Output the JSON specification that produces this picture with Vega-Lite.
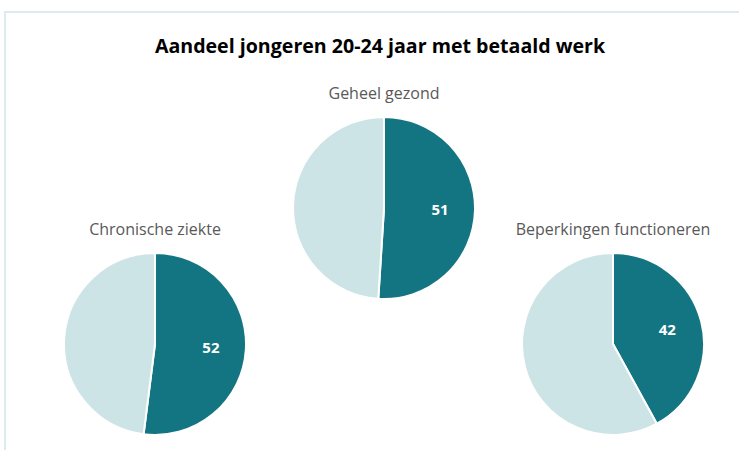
{
  "$schema": "https://vega.github.io/schema/vega-lite/v6.json",
  "width": 739,
  "height": 450,
  "autosize": {"type": "fit", "contains": "padding"},
  "padding": {"left": 5, "top": 12, "right": -16, "bottom": -2},
  "background": "white",
  "config": {"view": {"stroke": "#dcecee", "strokeWidth": 2}, "font": "Open Sans"},
  "title": {
    "text": "Aandeel jongeren 20-24 jaar met betaald werk",
    "font": "Open Sans",
    "fontSize": 19.6,
    "fontWeight": "bold",
    "color": "#000000",
    "anchor": "middle",
    "orient": "top",
    "offset": -61,
    "baseline": "alphabetic"
  },
  "data": {
    "values": [
      {"groep": "Chronische ziekte", "categorie": "met werk", "waarde": 52},
      {"groep": "Chronische ziekte", "categorie": "zonder werk", "waarde": 48},
      {"groep": "Geheel gezond", "categorie": "met werk", "waarde": 51},
      {"groep": "Geheel gezond", "categorie": "zonder werk", "waarde": 49},
      {"groep": "Beperkingen functioneren", "categorie": "met werk", "waarde": 42},
      {"groep": "Beperkingen functioneren", "categorie": "zonder werk", "waarde": 58}
    ]
  },
  "encoding": {
    "x": {
      "field": "groep",
      "type": "nominal",
      "scale": {"type": "point", "domain": ["Chronische ziekte", "Geheel gezond", "Beperkingen functioneren"], "range": [150, 608], "padding": 0},
      "axis": null
    }
  },
  "layer": [
    {
      "transform": [{"filter": "datum.groep === 'Chronische ziekte'"}],
      "encoding": {
        "y": {"datum": "onder", "type": "nominal", "scale": {"type": "point", "domain": ["boven", "onder"], "range": [196, 332], "padding": 0}, "axis": null}
      },
      "layer": [
        {
          "mark": {"type": "arc", "radius": 91, "stroke": "white", "strokeWidth": 2},
          "encoding": {
            "theta": {"field": "waarde", "type": "quantitative", "stack": true},
            "color": {"field": "categorie", "type": "nominal", "scale": {"domain": ["met werk", "zonder werk"], "range": ["#137582", "#cde4e6"]}, "legend": null},
            "order": {"field": "categorie", "sort": "ascending"}
          }
        },
        {
          "mark": {"type": "text", "radius": 56, "font": "Open Sans", "fontSize": 15, "fontWeight": "bold", "color": "white", "align": "center", "baseline": "middle"},
          "encoding": {
            "theta": {"field": "waarde", "type": "quantitative", "stack": true},
            "order": {"field": "categorie", "sort": "ascending"},
            "text": {"condition": {"test": "datum.categorie === 'met werk'", "field": "waarde", "type": "quantitative"}, "value": ""}
          }
        },
        {
          "transform": [{"filter": "datum.categorie === 'met werk'"}],
          "mark": {"type": "text", "dy": -114, "font": "Open Sans", "fontSize": 16, "color": "#595959", "align": "center", "baseline": "middle"},
          "encoding": {"text": {"field": "groep", "type": "nominal"}}
        }
      ]
    },
    {
      "transform": [{"filter": "datum.groep === 'Geheel gezond'"}],
      "encoding": {
        "y": {"datum": "boven", "type": "nominal", "scale": {"type": "point", "domain": ["boven", "onder"], "range": [196, 332], "padding": 0}, "axis": null}
      },
      "layer": [
        {
          "mark": {"type": "arc", "radius": 91, "stroke": "white", "strokeWidth": 2},
          "encoding": {
            "theta": {"field": "waarde", "type": "quantitative", "stack": true},
            "color": {"field": "categorie", "type": "nominal", "scale": {"domain": ["met werk", "zonder werk"], "range": ["#137582", "#cde4e6"]}, "legend": null},
            "order": {"field": "categorie", "sort": "ascending"}
          }
        },
        {
          "mark": {"type": "text", "radius": 56, "font": "Open Sans", "fontSize": 15, "fontWeight": "bold", "color": "white", "align": "center", "baseline": "middle"},
          "encoding": {
            "theta": {"field": "waarde", "type": "quantitative", "stack": true},
            "order": {"field": "categorie", "sort": "ascending"},
            "text": {"condition": {"test": "datum.categorie === 'met werk'", "field": "waarde", "type": "quantitative"}, "value": ""}
          }
        },
        {
          "transform": [{"filter": "datum.categorie === 'met werk'"}],
          "mark": {"type": "text", "dy": -114, "font": "Open Sans", "fontSize": 16, "color": "#595959", "align": "center", "baseline": "middle"},
          "encoding": {"text": {"field": "groep", "type": "nominal"}}
        }
      ]
    },
    {
      "transform": [{"filter": "datum.groep === 'Beperkingen functioneren'"}],
      "encoding": {
        "y": {"datum": "onder", "type": "nominal", "scale": {"type": "point", "domain": ["boven", "onder"], "range": [196, 332], "padding": 0}, "axis": null}
      },
      "layer": [
        {
          "mark": {"type": "arc", "radius": 91, "stroke": "white", "strokeWidth": 2},
          "encoding": {
            "theta": {"field": "waarde", "type": "quantitative", "stack": true},
            "color": {"field": "categorie", "type": "nominal", "scale": {"domain": ["met werk", "zonder werk"], "range": ["#137582", "#cde4e6"]}, "legend": null},
            "order": {"field": "categorie", "sort": "ascending"}
          }
        },
        {
          "mark": {"type": "text", "radius": 56, "font": "Open Sans", "fontSize": 15, "fontWeight": "bold", "color": "white", "align": "center", "baseline": "middle"},
          "encoding": {
            "theta": {"field": "waarde", "type": "quantitative", "stack": true},
            "order": {"field": "categorie", "sort": "ascending"},
            "text": {"condition": {"test": "datum.categorie === 'met werk'", "field": "waarde", "type": "quantitative"}, "value": ""}
          }
        },
        {
          "transform": [{"filter": "datum.categorie === 'met werk'"}],
          "mark": {"type": "text", "dy": -114, "font": "Open Sans", "fontSize": 16, "color": "#595959", "align": "center", "baseline": "middle"},
          "encoding": {"text": {"field": "groep", "type": "nominal"}}
        }
      ]
    }
  ]
}
